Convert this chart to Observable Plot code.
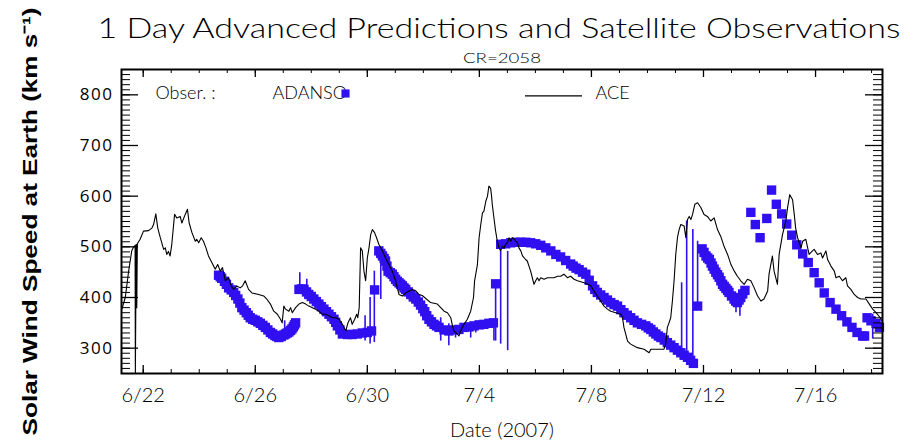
<!DOCTYPE html>
<html><head><meta charset="utf-8">
<script src="https://cdn.jsdelivr.net/npm/d3@7"></script>
<script src="https://cdn.jsdelivr.net/npm/@observablehq/plot@0.6"></script>
<style>
body{margin:0;background:#fff;}
#chart{position:relative;width:923px;height:443px;overflow:hidden;}
svg{overflow:visible;}
</style></head><body><div id="chart"></div>
<script>
// Days counted from 1 June 2007 (day 31 = 1 July)
const aceDay = [21.24,21.36,21.48,21.59,21.65,21.71,21.72,21.75,21.77,21.79,21.81,21.89,22.01,22.19,22.31,22.37,22.45,22.52,22.61,22.73,22.79,22.84,22.90,22.96,23.02,23.12,23.20,23.32,23.38,23.50,23.58,23.64,23.74,23.86,23.91,23.98,24.07,24.15,24.24,24.33,24.45,24.57,24.66,24.75,24.83,24.93,25.05,25.14,25.23,25.34,25.46,25.55,25.64,25.76,25.88,26.12,26.30,26.41,26.54,26.66,26.79,26.90,26.96,27.02,27.08,27.20,27.26,27.32,27.44,27.56,27.68,27.80,27.91,28.04,28.15,28.27,28.39,28.51,28.63,28.75,28.87,28.99,29.11,29.23,29.31,29.40,29.46,29.55,29.62,29.66,29.71,29.76,29.82,29.88,29.94,30.00,30.06,30.12,30.18,30.26,30.33,30.41,30.54,30.65,30.77,30.89,31.01,31.13,31.25,31.37,31.49,31.61,31.73,31.84,31.96,32.26,32.50,32.62,32.74,32.86,32.98,33.04,33.09,33.21,33.27,33.33,33.45,33.57,33.69,33.79,33.83,33.93,33.99,34.05,34.11,34.16,34.23,34.29,34.34,34.40,34.43,34.46,34.52,34.58,34.64,34.70,34.76,34.82,34.88,34.94,35.00,35.06,35.12,35.18,35.24,35.36,35.41,35.48,35.54,35.65,35.71,35.77,35.83,35.89,35.95,36.01,36.07,36.13,36.19,36.31,36.43,36.66,36.79,36.90,37.02,37.14,37.26,37.38,37.50,37.74,37.98,38.09,38.21,38.33,38.45,38.57,38.69,38.87,39.05,39.11,39.16,39.29,39.40,39.64,39.88,40.06,40.12,40.36,40.59,40.65,40.71,40.77,40.83,40.89,40.95,41.01,41.07,41.13,41.19,41.31,41.37,41.43,41.49,41.55,41.61,41.69,41.79,41.91,42.02,42.14,42.26,42.38,42.50,42.62,42.74,42.86,42.98,43.10,43.21,43.33,43.45,43.57,43.69,43.81,43.93,44.05,44.16,44.29,44.34,44.46,44.52,44.64,44.70,44.82,44.94,45.00,45.08,45.18,45.24,45.29,45.36,45.48,45.54,45.65,45.77,45.89,45.95,46.07,46.19,46.25,46.37,46.43,46.55,46.67,46.73,46.85,46.96,47.08,47.14,47.26,47.38,47.50,47.62,47.80,47.92,48.04,48.16,48.31,48.39];
const aceSpeed = [377,400,452,492,499,503,250,505,380,505,508,515,531,532,537,544,565,537,518,495,498,485,491,482,505,564,557,560,547,564,574,547,528,511,515,508,518,511,498,482,469,456,465,452,459,433,439,423,416,423,419,423,433,416,409,406,403,397,387,373,367,357,350,383,377,373,380,370,380,387,390,387,383,380,377,373,367,367,364,360,360,357,347,334,350,360,347,357,367,360,380,498,492,452,433,478,498,524,534,528,518,505,492,478,465,452,433,406,403,409,413,416,413,406,404,390,387,380,373,370,360,344,334,328,324,334,347,357,373,400,433,465,518,544,567,570,590,600,620,616,603,584,557,531,511,498,492,501,498,505,508,518,511,518,515,508,498,492,482,475,472,462,452,439,426,433,439,433,439,436,439,439,442,442,446,439,442,436,433,429,423,413,403,393,383,377,373,370,367,360,341,314,308,301,298,291,298,298,298,308,341,350,360,393,433,485,518,534,544,541,518,554,560,554,564,584,587,577,564,560,551,557,534,520,500,485,465,452,442,433,426,436,433,419,403,393,397,413,446,482,452,426,485,524,551,577,603,593,564,537,518,498,511,515,485,492,495,485,488,478,492,475,462,452,439,442,433,439,423,416,406,400,397,397,387,377,370,360,352];

const adansoDay = [
  24.69,24.75,24.80,24.90,24.97,25.05,25.14,25.23,25.30,25.38,25.45,25.52,25.60,25.68,25.75,25.82,25.91,26.00,26.09,26.18,26.27,26.36,26.45,26.54,26.62,26.70,26.77,26.84,26.93,27.02,27.08,27.14,27.20,27.26,27.31,27.36,27.40,27.44,
  27.56,27.65,27.74,27.83,27.91,28.00,28.09,28.18,28.27,28.36,28.45,28.54,28.63,28.72,28.81,28.87,28.93,29.02,29.11,29.29,29.46,29.64,29.82,30.00,30.15,30.26,
  30.41,30.48,30.54,30.60,30.65,30.70,30.74,30.82,30.89,30.95,31.01,31.07,31.13,31.19,31.25,31.31,31.37,31.46,31.55,31.64,31.73,31.82,31.90,31.98,32.05,32.12,32.20,32.29,32.38,32.47,32.56,32.74,32.91,33.09,33.27,33.45,33.63,33.81,33.99,34.16,34.34,34.50,34.58,
  34.76,34.94,35.12,35.30,35.48,35.66,35.83,36.01,36.19,36.37,36.55,36.73,36.90,37.08,37.26,
  37.35,37.45,37.56,37.68,37.80,37.92,38.04,38.12,38.21,38.33,38.45,38.57,38.69,38.81,38.93,39.05,39.16,39.28,39.40,39.52,39.64,39.79,39.94,40.03,40.12,40.21,40.30,40.39,40.48,40.60,40.71,40.83,40.95,41.07,41.19,41.31,41.43,41.54,41.64,41.79,
  41.95,42.02,42.09,42.15,42.21,42.27,42.32,42.38,42.44,42.50,42.56,42.62,42.68,42.74,42.80,42.86,42.91,43.00,43.09,43.15,43.21,43.27,43.33,43.40,43.48,
  43.69,43.85,44.02,44.26,44.43,44.60,44.79,44.97,45.15,45.33,45.54,45.74,45.95,46.13,46.31,46.52,46.73,46.93,47.12,47.30,47.48,47.68,47.75,47.84,47.98,48.16,48.28];
const adansoSpeed = [
  444,441,438,432,426,419,415,410,404,397,389,380,375,370,365,360,357,355,352,349,345,341,336,331,328,325,323,321,323,326,328,330,332,335,338,342,346,350,
  416,417,416,411,406,402,397,392,387,382,377,372,367,362,357,351,344,336,328,327,327,328,330,331,334,415,
  492,487,482,477,472,462,452,449,446,441,436,432,429,426,423,419,416,411,406,401,397,391,385,378,372,364,357,352,347,344,341,336,334,336,337,341,342,344,346,347,349,350,427,
  505,506,508,509,509,509,508,506,503,498,492,485,480,473,466,
  462,458,455,450,446,434,423,416,410,405,400,395,390,386,383,376,370,365,360,355,350,347,344,340,337,332,328,324,321,316,311,306,301,296,291,286,282,276,270,383,
  496,489,482,478,475,468,462,456,450,445,440,433,426,422,418,414,410,403,397,393,390,395,400,407,414,
  568,544,518,556,612,584,565,545,523,504,486,469,449,429,409,390,377,364,352,341,331,324,324,360,354,349,341];

// Blue vertical bars: day, low, high (km/s)
const barDay  = [27.05,27.59,27.84,29.92,30.10,30.25,30.48,32.62,32.91,33.15,33.69,33.87,34.52,34.58,34.76,35.01,41.22,41.40,41.62,41.79,43.16,43.30,48.04];
const barLow  = [338,419,400,314,308,311,396,314,305,320,320,330,314,314,308,295,291,282,265,387,370,363,318];
const barHigh = [354,449,436,364,400,452,485,360,348,338,344,350,348,426,491,491,429,551,534,511,390,400,367];

const xMajorDays = [22,26,30,34,38,42,46];
const xMajorLabels = ["6/22","6/26","6/30","7/4","7/8","7/12","7/16"];
const xMinorDays = d3.range(22,49);
const yMajor = [300,400,500,600,700,800];
const yMinor = d3.range(250,851,10);
const xStart = 21.225, xEnd = 48.39;

const titleText = "1 Day Advanced Predictions and Satellite Observations";
const subText = "CR=2058";
const xLabel = "Date (2007)";
const yLabel = "Solar Wind Speed at Earth (km s\u207B\u00B9)";

const toDate = d => new Date(Date.UTC(2007,5,1) + (d-1)*864e5);
const ace = aceDay.map((d,i)=>({date: toDate(d), v: aceSpeed[i]}));
const adanso = adansoDay.map((d,i)=>({date: toDate(d), v: adansoSpeed[i]}));
const bars = barDay.map((d,i)=>({date: toDate(d), lo: barLow[i], hi: barHigh[i]}));
const xMajor = xMajorDays.map(toDate);
const xMinor = xMinorDays.map(toDate);
const labelOf = new Map(xMajor.map((d,i)=>[+d, xMajorLabels[i]]));

const W = 923, H = 443, mL = 121, mR = 41, mT = 69, mB = 70;
const fw = W - mL - mR, fh = H - mT - mB;
const blue = "#3010f0";
const thin = "Lato, 'Open Sans', sans-serif";
const txt = {fontFamily: thin, fontWeight: 300, lineAnchor: "middle", text: d=>d};

const plot = Plot.plot({
  width: W, height: H,
  marginLeft: mL, marginRight: mR, marginTop: mT, marginBottom: mB,
  style: {background: "white", color: "black", overflow: "visible"},
  x: {type: "utc", domain: [toDate(xStart), toDate(xEnd)]},
  y: {domain: [250, 850]},
  marks: [
    Plot.ruleX(bars, {x: "date", y1: "lo", y2: "hi", stroke: blue, strokeWidth: 1.6, clip: true}),
    Plot.dot(adanso, {x: "date", y: "v", symbol: "square", r: 5.3, fill: blue, stroke: null}),
    Plot.line(ace, {x: "date", y: "v", stroke: "black", strokeWidth: 1.1, clip: true}),
    // inward ticks
    Plot.tickY(yMinor, {y: d=>d, insetRight: fw-9, stroke: "black"}),
    Plot.tickY(yMinor, {y: d=>d, insetLeft: fw-9, stroke: "black"}),
    Plot.tickY(yMajor, {y: d=>d, insetRight: fw-17, stroke: "black", strokeWidth: 1.3}),
    Plot.tickY(yMajor, {y: d=>d, insetLeft: fw-17, stroke: "black", strokeWidth: 1.3}),
    Plot.tickX(xMinor, {x: d=>d, insetTop: fh-4, stroke: "black"}),
    Plot.tickX(xMinor, {x: d=>d, insetBottom: fh-4, stroke: "black"}),
    Plot.tickX(xMajor, {x: d=>d, insetTop: fh-8, stroke: "black", strokeWidth: 1.3}),
    Plot.tickX(xMajor, {x: d=>d, insetBottom: fh-8, stroke: "black", strokeWidth: 1.3}),
    Plot.frame({stroke: "black", strokeWidth: 2}),
    Plot.axisY(yMajor, {tickSize: 0, tickPadding: 8, fontSize: 17, fontFamily: "'Open Sans', 'Liberation Sans', sans-serif", label: null}),
    Plot.axisX(xMajor, {tickSize: 0, tickPadding: 14, fontSize: 20, fontFamily: thin, fontWeight: 300, tickFormat: d => labelOf.get(+d), label: null}),
    // legend
    Plot.text(["Obser. :"], {...txt, frameAnchor: "top-left", dx: 34, dy: 24, textAnchor: "start", fontSize: 18}),
    Plot.text(["ADANSO"], {...txt, frameAnchor: "top-left", dx: 151, dy: 24, textAnchor: "start", fontSize: 18}),
    Plot.dot([0], {frameAnchor: "top-left", dx: 224, dy: 24, symbol: "square", r: 4.6, fill: blue}),
    Plot.tickY([798], {y: d=>d, insetLeft: 404, insetRight: 300, stroke: "black", strokeWidth: 1.2}),
    Plot.text(["ACE"], {...txt, frameAnchor: "top-left", dx: 474, dy: 24, textAnchor: "start", fontSize: 18}),
    // titles
    Plot.text([titleText], {...txt, frameAnchor: "top", dy: -40, dx: -3, fontSize: 28}),
    Plot.text([subText], {...txt, frameAnchor: "top", dy: -11, fontSize: 13}),
    Plot.text([xLabel], {...txt, frameAnchor: "bottom", dy: 57, fontSize: 20}),
    Plot.text([yLabel], {frameAnchor: "left", dx: -91, rotate: -90, textAnchor: "middle", lineAnchor: "middle", fontSize: 21, fontWeight: "bold", fontFamily: "'Liberation Sans', Arial, sans-serif", text: d=>d})
  ]
});
document.getElementById("chart").appendChild(plot);
const ySet = new Set(yMajor.map(String));
plot.querySelectorAll("text").forEach(t => {
  const c = t.textContent;
  if (c === titleText) { t.setAttribute("textLength", 803); t.setAttribute("lengthAdjust", "spacingAndGlyphs"); }
  if (c === yLabel) { t.setAttribute("textLength", 428); t.setAttribute("lengthAdjust", "spacingAndGlyphs"); }
  if (ySet.has(c)) { t.style.letterSpacing = "1.5px"; }
  if (c === subText) { t.setAttribute("textLength", 78); t.setAttribute("lengthAdjust", "spacingAndGlyphs"); }
});
</script></body></html>
